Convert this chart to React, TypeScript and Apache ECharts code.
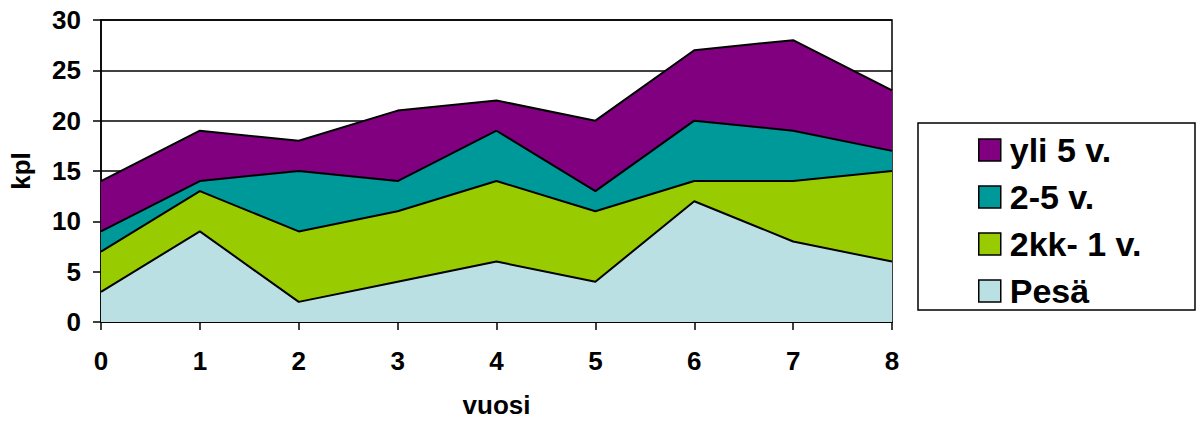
import React, { useEffect, useRef } from "react";
import * as echarts from "echarts";

// Years since the start (x axis)
const years = ["0", "1", "2", "3", "4", "5", "6", "7", "8"];

// Counts per age class, stacked bottom to top
const pesa = [3, 9, 2, 4, 6, 4, 12, 8, 6];
const kk2to1v = [4, 4, 7, 7, 8, 7, 2, 6, 9];
const v2to5 = [2, 1, 6, 3, 5, 2, 6, 5, 2];
const yli5 = [5, 5, 3, 7, 3, 7, 7, 9, 6];

const seriesNames = ["Pesä", "2kk- 1 v.", "2-5 v.", "yli 5 v."];
const seriesData = [pesa, kk2to1v, v2to5, yli5];
const seriesColors = ["#BBE0E3", "#99CC00", "#009999", "#800080"];
const legendOrder = ["yli 5 v.", "2-5 v.", "2kk- 1 v.", "Pesä"];

const FONT = "'Liberation Sans', Arial, sans-serif";

export default function App() {
  const ref = useRef<HTMLDivElement>(null);

  useEffect(() => {
    if (!ref.current) return;
    const chart = echarts.init(ref.current, undefined, { renderer: "svg" });

    const series = seriesNames.map((name, i) => ({
      name,
      type: "line" as const,
      stack: "total",
      data: seriesData[i],
      showSymbol: false,
      symbol: "none",
      itemStyle: { color: seriesColors[i] },
      lineStyle: { color: "#000", width: 2 },
      areaStyle: { color: seriesColors[i], opacity: 1 },
      z: 2,
    }));

    chart.setOption({
      animation: false,
      backgroundColor: "#fff",
      grid: {
        left: 95,
        right: 311,
        top: 20,
        bottom: 97,
        show: true,
        borderColor: "#000",
        borderWidth: 1.5,
        backgroundColor: "transparent",
      },
      xAxis: {
        type: "category",
        data: years,
        boundaryGap: false,
        name: "vuosi",
        nameLocation: "middle",
        nameGap: 70,
        nameTextStyle: { fontFamily: FONT, fontWeight: "bold", fontSize: 26, color: "#000" },
        axisLine: { show: true, lineStyle: { color: "#000", width: 1.5 } },
        axisTick: { show: true, length: 8, lineStyle: { color: "#000", width: 1.5 } },
        axisLabel: { margin: 26, fontFamily: FONT, fontWeight: "bold", fontSize: 26, color: "#000" },
        splitLine: { show: false },
      },
      yAxis: {
        type: "value",
        min: 0,
        max: 30,
        interval: 5,
        name: "kpl",
        nameLocation: "middle",
        nameGap: 67,
        nameTextStyle: { fontFamily: FONT, fontWeight: "bold", fontSize: 26, color: "#000" },
        axisLine: { show: true, lineStyle: { color: "#000", width: 1.5 } },
        axisTick: { show: true, length: 8, lineStyle: { color: "#000", width: 1.5 } },
        axisLabel: { margin: 20, fontFamily: FONT, fontWeight: "bold", fontSize: 26, color: "#000" },
        splitLine: { show: true, lineStyle: { color: "#000", width: 1.5 } },
      },
      legend: {
        data: legendOrder,
        orient: "vertical",
        left: 978,
        top: 133,
        padding: 0,
        itemWidth: 22,
        itemHeight: 22,
        itemGap: 13,
        icon: "rect",
        itemStyle: { borderColor: "#000", borderWidth: 1.5 },
        textStyle: {
          fontFamily: FONT,
          fontWeight: "bold",
          fontSize: 34,
          lineHeight: 34,
          color: "#000",
          padding: [0, 0, 0, 4],
        },
      },
      graphic: [
        {
          type: "rect",
          shape: { x: 918, y: 123, width: 277, height: 187 },
          style: { fill: "none", stroke: "#000", lineWidth: 1.5 },
          silent: true,
        },
      ],
      series,
    });

    return () => chart.dispose();
  }, []);

  return (
    <div
      ref={ref}
      style={{ position: "fixed", left: 0, top: 0, width: 1203, height: 423 }}
    />
  );
}
